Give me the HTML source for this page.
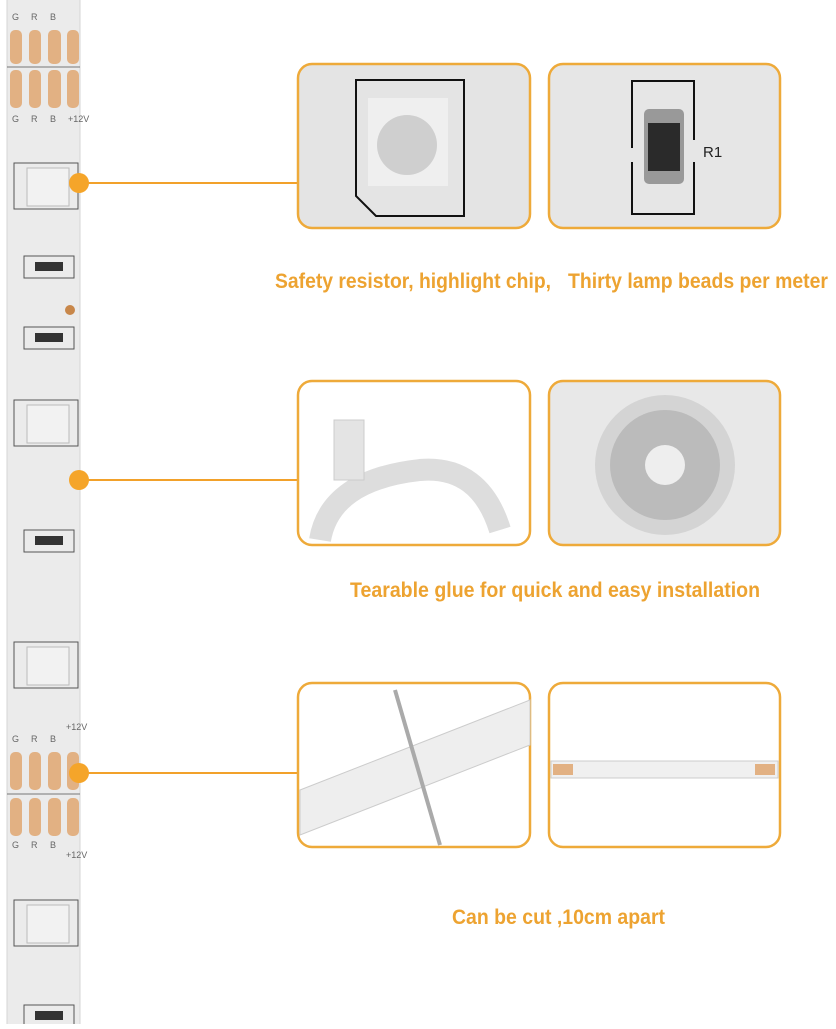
<!DOCTYPE html>
<html><head><style>
html,body{margin:0;padding:0;background:#fff;}
</style></head><body>
<svg width="836" height="1024" viewBox="0 0 836 1024" xmlns="http://www.w3.org/2000/svg">
<!-- strip -->
<rect x="7" y="0" width="73" height="1024" fill="#ebebeb"/>
<line x1="7" y1="0" x2="7" y2="1024" stroke="#d4d4d4"/>
<line x1="80" y1="0" x2="80" y2="1024" stroke="#d4d4d4"/>
<g fill="#e2b183">
<rect x="10" y="30" width="12" height="34" rx="5"/><rect x="29" y="30" width="12" height="34" rx="5"/><rect x="48" y="30" width="13" height="34" rx="5"/><rect x="67" y="30" width="12" height="34" rx="5"/>
<rect x="10" y="70" width="12" height="38" rx="5"/><rect x="29" y="70" width="12" height="38" rx="5"/><rect x="48" y="70" width="13" height="38" rx="5"/><rect x="67" y="70" width="12" height="38" rx="5"/>
<rect x="10" y="752" width="12" height="38" rx="5"/><rect x="29" y="752" width="12" height="38" rx="5"/><rect x="48" y="752" width="13" height="38" rx="5"/><rect x="67" y="752" width="12" height="38" rx="5"/>
<rect x="10" y="798" width="12" height="38" rx="5"/><rect x="29" y="798" width="12" height="38" rx="5"/><rect x="48" y="798" width="13" height="38" rx="5"/><rect x="67" y="798" width="12" height="38" rx="5"/>
</g>
<line x1="7" y1="67" x2="80" y2="67" stroke="#777"/>
<line x1="7" y1="794" x2="80" y2="794" stroke="#777"/>
<g font-family="Liberation Sans, sans-serif" font-size="9" fill="#666">
<text x="12" y="20">G</text><text x="31" y="20">R</text><text x="50" y="20">B</text>
<text x="12" y="122">G</text><text x="31" y="122">R</text><text x="50" y="122">B</text><text x="68" y="122">+12V</text>
<text x="12" y="742">G</text><text x="31" y="742">R</text><text x="50" y="742">B</text><text x="66" y="730">+12V</text>
<text x="12" y="848">G</text><text x="31" y="848">R</text><text x="50" y="848">B</text><text x="66" y="858">+12V</text>
</g>
<g fill="none" stroke="#555">
<rect x="14" y="163" width="64" height="46"/><rect x="14" y="400" width="64" height="46"/><rect x="14" y="642" width="64" height="46"/><rect x="14" y="900" width="64" height="46"/>
<rect x="24" y="256" width="50" height="22"/><rect x="24" y="327" width="50" height="22"/><rect x="24" y="530" width="50" height="22"/><rect x="24" y="1005" width="50" height="22"/>
</g>
<g fill="#f2f2f2" stroke="#bbb">
<rect x="27" y="168" width="42" height="38"/><rect x="27" y="405" width="42" height="38"/><rect x="27" y="647" width="42" height="38"/><rect x="27" y="905" width="42" height="38"/>
</g>
<g fill="#333"><rect x="35" y="262" width="28" height="9"/><rect x="35" y="333" width="28" height="9"/><rect x="35" y="536" width="28" height="9"/><rect x="35" y="1011" width="28" height="9"/></g>
<circle cx="70" cy="310" r="5" fill="#c8874a"/>
<!-- connectors -->
<g stroke="#f2a12a" stroke-width="2"><line x1="80" y1="183" x2="298" y2="183"/><line x1="80" y1="480" x2="298" y2="480"/><line x1="80" y1="773" x2="298" y2="773"/></g>
<g fill="#f5a52a"><circle cx="79" cy="183" r="10"/><circle cx="79" cy="480" r="10"/><circle cx="79" cy="773" r="10"/></g>
<!-- boxes -->
<g stroke="#eeaa3a" stroke-width="2.5">
<rect x="298" y="64" width="232" height="164" rx="14" fill="#e4e4e4"/>
<rect x="549" y="64" width="231" height="164" rx="14" fill="#e6e6e6"/>
<rect x="298" y="381" width="232" height="164" rx="14" fill="#fff"/>
<rect x="549" y="381" width="231" height="164" rx="14" fill="#e8e8e8"/>
<rect x="298" y="683" width="232" height="164" rx="14" fill="#fff"/>
<rect x="549" y="683" width="231" height="164" rx="14" fill="#fff"/>
</g>
<!-- box1 contents -->
<path d="M356 80 H464 V216 H376 L356 196 Z" fill="none" stroke="#111" stroke-width="2"/>
<rect x="368" y="98" width="80" height="88" fill="#efefef"/>
<circle cx="407" cy="145" r="30" fill="#cfcfcf"/>
<!-- box2 -->
<path d="M632 148 V81 H694 V140 M694 162 V214 H632 V162" fill="none" stroke="#111" stroke-width="2"/>
<rect x="644" y="109" width="40" height="75" rx="5" fill="#999"/>
<rect x="648" y="123" width="32" height="48" fill="#2a2a2a"/>
<text x="703" y="157" font-family="Liberation Sans, sans-serif" font-size="15" fill="#222">R1</text>
<!-- box3 tape -->
<path d="M320 540 Q330 480 420 470 Q480 465 500 530" fill="none" stroke="#ddd" stroke-width="22"/>
<rect x="334" y="420" width="30" height="60" fill="#e4e4e4" stroke="#ccc"/>
<!-- box4 reel -->
<circle cx="665" cy="465" r="70" fill="#d4d4d4"/>
<circle cx="665" cy="465" r="55" fill="#bbb"/>
<circle cx="665" cy="465" r="20" fill="#eee"/>
<!-- box5 strip -->
<path d="M300 790 L530 700 L530 745 L300 835 Z" fill="#eee" stroke="#ccc"/>
<line x1="395" y1="690" x2="440" y2="845" stroke="#aaa" stroke-width="4"/>
<!-- box6 strip -->
<rect x="551" y="761" width="227" height="17" fill="#f0f0f0" stroke="#ccc"/>
<g fill="#e2b183"><rect x="553" y="764" width="20" height="11"/><rect x="755" y="764" width="20" height="11"/></g>
<!-- text -->
<g font-family="Liberation Sans, sans-serif" font-weight="bold" font-size="21" fill="#eda331">
<text x="275" y="288" textLength="276" lengthAdjust="spacingAndGlyphs">Safety resistor, highlight chip,</text>
<text x="568" y="288" textLength="260" lengthAdjust="spacingAndGlyphs">Thirty lamp beads per meter</text>
<text x="350" y="597" textLength="410" lengthAdjust="spacingAndGlyphs">Tearable glue for quick and easy installation</text>
<text x="452" y="924" textLength="213" lengthAdjust="spacingAndGlyphs">Can be cut ,10cm apart</text>
</g>
</svg>
</body></html>
